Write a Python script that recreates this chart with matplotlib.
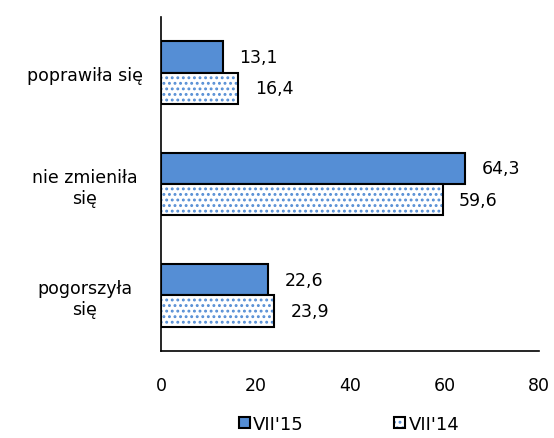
import matplotlib.pyplot as plt
import numpy as np
from matplotlib.patches import Patch

categories = ["poprawiła się", "nie zmieniła\nsię", "pogorszyła\nsię"]
vii15 = [13.1, 64.3, 22.6]
vii14 = [16.4, 59.6, 23.9]
series_names = ["VII'15", "VII'14"]

blue = "#558ED5"
plt.rcParams["font.family"] = "DejaVu Sans"
plt.rcParams["hatch.linewidth"] = 1.3

fig = plt.figure(figsize=(5.54, 4.39), dpi=100)
ax = fig.add_axes([0.2906, 0.198, 0.6824, 0.761])

y = np.arange(len(categories))
h = 0.28

# VII'15 solid bars (upper)
ax.barh(y - h / 2, vii15, height=h, color=blue, edgecolor="black", linewidth=1.5)

# VII'14 dotted bars (lower): hatch layer then outline
ax.barh(y + h / 2, vii14, height=h, color="white", edgecolor=blue, hatch="...", linewidth=0)
ax.barh(y + h / 2, vii14, height=h, fill=False, edgecolor="black", linewidth=1.5)

for yi, v in zip(y - h / 2, vii15):
    ax.text(v + 3.5, yi, f"{v:.1f}".replace(".", ","), va="center", ha="left", fontsize=12.5)
for yi, v in zip(y + h / 2, vii14):
    ax.text(v + 3.5, yi, f"{v:.1f}".replace(".", ","), va="center", ha="left", fontsize=12.5)

ax.set_xlim(0, 80)
ax.set_xticks([0, 20, 40, 60, 80])
ax.set_ylim(2.5, -0.5)
ax.set_yticks(y)
ax.set_yticklabels(categories, fontsize=12.5, ha="center")
ax.tick_params(axis="y", length=0, pad=55)
ax.tick_params(axis="x", length=0, labelsize=12.5, pad=18)
for s in ["top", "right"]:
    ax.spines[s].set_visible(False)
ax.spines["left"].set_linewidth(1.2)
ax.spines["bottom"].set_linewidth(1.2)

h15 = Patch(facecolor=blue, edgecolor="black", linewidth=1.5)
h14 = (Patch(facecolor="white", edgecolor=blue, hatch="...", linewidth=0),
       Patch(fill=False, edgecolor="black", linewidth=1.5))
fig.legend([h15, h14], series_names, loc="lower center", bbox_to_anchor=(0.63, -0.025), ncol=2,
           frameon=False, fontsize=13, handlelength=0.6, handleheight=0.6,
           handletextpad=0.2, columnspacing=5.0)

fig.savefig("out.png", dpi=100)
